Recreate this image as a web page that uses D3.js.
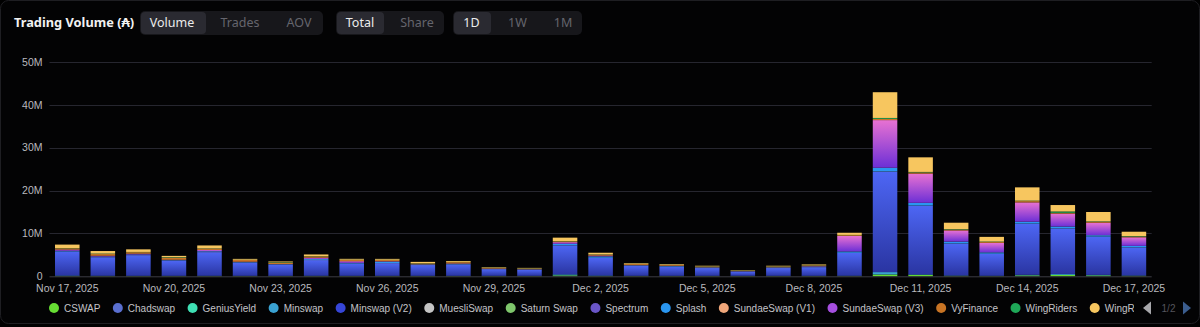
<!DOCTYPE html>
<html>
<head>
<meta charset="utf-8">
<script src="https://cdn.jsdelivr.net/npm/d3@7"></script>
<style>
  html, body { margin: 0; padding: 0; background: #000; }
  svg { display: block; }
</style>
</head>
<body>
<svg id="chart" width="1200" height="327"></svg>
<script>
// ---- Data (daily DEX trading volume, millions of ADA) ----
const dates = [
  "Nov 17, 2025","Nov 18, 2025","Nov 19, 2025","Nov 20, 2025","Nov 21, 2025","Nov 22, 2025",
  "Nov 23, 2025","Nov 24, 2025","Nov 25, 2025","Nov 26, 2025","Nov 27, 2025","Nov 28, 2025",
  "Nov 29, 2025","Nov 30, 2025","Dec 1, 2025","Dec 2, 2025","Dec 3, 2025","Dec 4, 2025",
  "Dec 5, 2025","Dec 6, 2025","Dec 7, 2025","Dec 8, 2025","Dec 9, 2025","Dec 10, 2025",
  "Dec 11, 2025","Dec 12, 2025","Dec 13, 2025","Dec 14, 2025","Dec 15, 2025","Dec 16, 2025",
  "Dec 17, 2025"
];
const xTickLabels = ["Nov 17, 2025","Nov 20, 2025","Nov 23, 2025","Nov 26, 2025","Nov 29, 2025",
  "Dec 2, 2025","Dec 5, 2025","Dec 8, 2025","Dec 11, 2025","Dec 14, 2025","Dec 17, 2025"];
const yTicks = [0, 10, 20, 30, 40, 50];
const yTickLabels = ["0", "10M", "20M", "30M", "40M", "50M"];

const seriesNames = ["CSWAP","Chadswap","GeniusYield","Minswap","Minswap (V2)","MuesliSwap",
  "Saturn Swap","Spectrum","Splash","SundaeSwap (V1)","SundaeSwap (V3)","VyFinance",
  "WingRiders","WingRiders (V2)"];

const cswap       = [0.05,0.05,0.05,0.05,0.05,0.05,0.05,0.05,0.05,0.05,0.05,0.05,0.05,0.05,0.2,0.05,0.05,0.05,0.05,0.05,0.05,0.05,0.05,0.4,0.3,0.1,0.05,0.2,0.3,0.2,0.1];
const chadswap    = [0.01,0.01,0.01,0.01,0.01,0.01,0.01,0.01,0.01,0.01,0.01,0.01,0.01,0.01,0.02,0.01,0.01,0.01,0.01,0.01,0.01,0.01,0.02,0.03,0.02,0.01,0.01,0.02,0.02,0.01,0.01];
const geniusYield = [0.02,0.02,0.01,0.01,0.02,0.01,0.01,0.02,0.01,0.01,0.01,0.01,0.01,0.01,0.03,0.02,0.01,0.01,0.01,0.01,0.01,0.01,0.02,0.05,0.03,0.02,0.02,0.03,0.03,0.02,0.02];
const minswap     = [0.1,0.05,0.05,0.05,0.05,0.05,0.05,0.05,0.05,0.05,0.05,0.05,0.05,0.05,0.2,0.1,0.05,0.05,0.05,0.05,0.05,0.05,0.05,0.5,0.1,0.05,0.05,0.1,0.2,0.1,0.05];
const minswapV2   = [5.6,4.3,4.8,3.5,5.5,3.05,2.55,3.65,2.85,2.95,2.5,2.65,1.55,1.4,6.75,4.1,2.3,2.15,1.8,0.95,1.8,2.0,5.3,23.4,16.0,7.45,5.1,11.9,10.6,8.9,6.55];
const muesliSwap  = [0.01,0.01,0.01,0.01,0.01,0.01,0.01,0.01,0.01,0.01,0.01,0.01,0.01,0.01,0.01,0.01,0.01,0.01,0.01,0.01,0.01,0.01,0.01,0.02,0.01,0.01,0.01,0.01,0.01,0.01,0.01];
const saturnSwap  = [0.01,0.01,0.01,0.01,0.01,0.01,0.01,0.01,0.01,0.01,0.01,0.01,0.01,0.01,0.01,0.01,0.01,0.01,0.01,0.01,0.01,0.01,0.01,0.02,0.01,0.01,0.01,0.01,0.01,0.01,0.01];
const spectrum    = [0.02,0.02,0.02,0.01,0.02,0.01,0.01,0.02,0.01,0.01,0.01,0.01,0.01,0.01,0.02,0.02,0.01,0.01,0.01,0.01,0.01,0.01,0.02,0.04,0.03,0.02,0.02,0.03,0.02,0.02,0.02];
const splash      = [0.1,0.1,0.1,0.1,0.15,0.1,0.1,0.2,0.1,0.3,0.1,0.1,0.05,0.05,0.3,0.3,0.1,0.1,0.1,0.05,0.1,0.1,0.3,0.8,0.6,0.4,0.3,0.4,0.4,0.3,0.3];
const sundaeV1    = [0.02,0.02,0.02,0.01,0.02,0.01,0.01,0.02,0.02,0.01,0.01,0.01,0.01,0.01,0.02,0.02,0.01,0.01,0.01,0.01,0.01,0.01,0.02,0.05,0.03,0.02,0.02,0.03,0.02,0.02,0.02];
const sundaeV3    = [0.3,0.2,0.2,0.1,0.3,0.1,0.05,0.3,0.4,0.1,0.05,0.1,0.05,0.05,0.4,0.2,0.05,0.05,0.05,0.05,0.05,0.1,3.6,11.1,6.8,2.6,2.2,4.5,3.0,2.9,2.0];
const vyFinance   = [0.3,0.4,0.35,0.5,0.3,0.4,0.35,0.3,0.3,0.3,0.2,0.3,0.2,0.15,0.2,0.2,0.25,0.2,0.2,0.15,0.2,0.2,0.2,0.3,0.3,0.2,0.2,0.3,0.2,0.2,0.2];
const wingRiders  = [0.05,0.1,0.05,0.1,0.05,0.05,0.1,0.05,0.05,0.05,0.05,0.05,0.05,0.05,0.05,0.05,0.05,0.05,0.05,0.05,0.05,0.05,0.05,0.2,0.1,0.1,0.1,0.1,0.3,0.1,0.1];
const wingRidersV2= [0.8,0.6,0.6,0.3,0.7,0.2,0.15,0.4,0.2,0.2,0.3,0.2,0.1,0.1,0.8,0.4,0.15,0.15,0.1,0.05,0.1,0.15,0.5,6.0,3.4,1.5,1.1,3.1,1.5,2.2,1.0];

const seriesValues = [cswap, chadswap, geniusYield, minswap, minswapV2, muesliSwap, saturnSwap,
  spectrum, splash, sundaeV1, sundaeV3, vyFinance, wingRiders, wingRidersV2];

// ---- Styling ----
const seriesColors = ["#66dd33","#5a6fd0","#3fe0b4","#3aa2d2","#3646d8","#c4c4c4","#7fc66c",
  "#6a56c8","#2a96f0","#f0a67a","#a64fe0","#c87424","#1fa858","#f7c65f"];
const gradientFills = {
  "Minswap (V2)": ["#4d66f4", "#2a35a2"],
  "SundaeSwap (V3)": ["#e872d2", "#6c2fd6"]
};

const svg = d3.select("#chart");
const W = 1200, H = 327;

// panel
svg.append("rect").attr("x", 0).attr("y", 0).attr("width", W).attr("height", H).attr("fill", "#000");
svg.append("rect").attr("x", 0.5).attr("y", 0.5).attr("width", W - 1).attr("height", H - 4)
  .attr("rx", 8).attr("fill", "#030304").attr("stroke", "#1e1e22");

const defs = svg.append("defs");
Object.entries(gradientFills).forEach(([name, stops], i) => {
  const g = defs.append("linearGradient").attr("id", "grad" + i)
    .attr("x1", 0).attr("y1", 0).attr("x2", 0).attr("y2", 1);
  g.append("stop").attr("offset", "0%").attr("stop-color", stops[0]);
  g.append("stop").attr("offset", "100%").attr("stop-color", stops[1]);
  gradientFills[name].id = "grad" + i;
});
function fillFor(name, i) {
  return gradientFills[name] ? `url(#${gradientFills[name].id})` : seriesColors[i];
}

// ---- Header: title and toggle groups ----
const header = svg.append("g").attr("font-family", "'Noto Sans', sans-serif");
header.append("text").attr("x", 14).attr("y", 27).attr("fill", "#f2f2f2")
  .attr("font-size", 12.8).attr("font-weight", 700).text("Trading Volume (₳)");

const toggleGroups = [
  { x: 140, w: 183, items: [["Volume", 172, true], ["Trades", 240, false], ["AOV", 299, false]], sel: [140, 65] },
  { x: 336, w: 108, items: [["Total", 360, true], ["Share", 417, false]], sel: [336, 47] },
  { x: 453, w: 129, items: [["1D", 471.5, true], ["1W", 517.5, false], ["1M", 563, false]], sel: [453, 37] }
];
toggleGroups.forEach(gp => {
  header.append("rect").attr("x", gp.x).attr("y", 11).attr("width", gp.w).attr("height", 24)
    .attr("rx", 5).attr("fill", "#17171b");
  header.append("rect").attr("x", gp.sel[0] + 1).attr("y", 12).attr("width", gp.sel[1]).attr("height", 22)
    .attr("rx", 4).attr("fill", "#2a2a31");
  gp.items.forEach(([t, cx, on]) => {
    header.append("text").attr("x", cx).attr("y", 27).attr("text-anchor", "middle")
      .attr("font-size", 12.5).attr("fill", on ? "#ececec" : "#65656d").text(t);
  });
});

// ---- Scales ----
const x = d3.scaleBand().domain(dates).range([49.5, 1151.7]).paddingInner(0.31).paddingOuter(0.155);
const y = d3.scaleLinear().domain([0, 50]).range([276.3, 61.8]);

const chartFont = "'Liberation Sans', Arial, sans-serif";

// grid lines + y labels
const yAxis = d3.axisLeft(y).tickValues(yTicks).tickSize(0).tickPadding(7)
  .tickFormat((d, i) => yTickLabels[i]);
const yG = svg.append("g").attr("transform", "translate(49.5,0)").call(yAxis);
yG.select(".domain").remove();
yG.selectAll("text").attr("font-family", chartFont).attr("font-size", 10.5).attr("fill", "#b9b9be");
svg.append("g").selectAll("line").data(yTicks.filter(d => d > 0)).join("line")
  .attr("x1", 49.5).attr("x2", 1151.7)
  .attr("y1", d => Math.round(y(d)) + 0.5).attr("y2", d => Math.round(y(d)) + 0.5)
  .attr("stroke", "#26262f").attr("stroke-width", 1);

// ---- Stacked bars ----
const rows = dates.map((d, i) => {
  const r = { date: d };
  seriesNames.forEach((s, k) => r[s] = seriesValues[k][i]);
  return r;
});
const stacked = d3.stack().keys(seriesNames)(rows);

const barsG = svg.append("g");
stacked.forEach((layer, k) => {
  barsG.append("g").attr("fill", fillFor(layer.key, k))
    .selectAll("rect").data(layer).join("rect")
    .attr("x", d => x(d.data.date))
    .attr("width", x.bandwidth())
    .attr("y", d => y(d[1]))
    .attr("height", d => Math.max(0, y(d[0]) - y(d[1])));
});

// baseline
svg.append("line").attr("x1", 49.5).attr("x2", 1151.7).attr("y1", 276.8).attr("y2", 276.8)
  .attr("stroke", "#3c3c44").attr("stroke-width", 1);

// x axis labels
const xAxis = d3.axisBottom(x).tickValues(xTickLabels).tickSize(0).tickPadding(8);
const xG = svg.append("g").attr("transform", "translate(0,277)").call(xAxis);
xG.select(".domain").remove();
xG.selectAll("text").attr("font-family", chartFont).attr("font-size", 10.5).attr("fill", "#b9b9be");

// ---- Legend (first page, clipped before the pager) ----
defs.append("clipPath").attr("id", "legendClip")
  .append("rect").attr("x", 0).attr("y", 295).attr("width", 1134).attr("height", 30);
const legend = svg.append("g").attr("clip-path", "url(#legendClip)")
  .attr("font-family", chartFont).attr("font-size", 10);
let cx = 54;
seriesNames.forEach((name, k) => {
  legend.append("circle").attr("cx", cx).attr("cy", 308).attr("r", 5).attr("fill", seriesColors[k]);
  const t = legend.append("text").attr("x", cx + 10).attr("y", 311.5).attr("fill", "#c4c4c8").text(name);
  cx = cx + 10 + t.node().getComputedTextLength() + 17.5;
});
// pager
svg.append("path").attr("d", "M1143,308 L1151,301.5 L1151,314.5 Z").attr("fill", "#a8a8ac");
svg.append("text").attr("x", 1168.5).attr("y", 311.5).attr("text-anchor", "middle")
  .attr("font-family", chartFont).attr("font-size", 10).attr("fill", "#55555c").text("1/2");
svg.append("path").attr("d", "M1191,308 L1183,301.5 L1183,314.5 Z").attr("fill", "#3b5d8e");
</script>
</body>
</html>
